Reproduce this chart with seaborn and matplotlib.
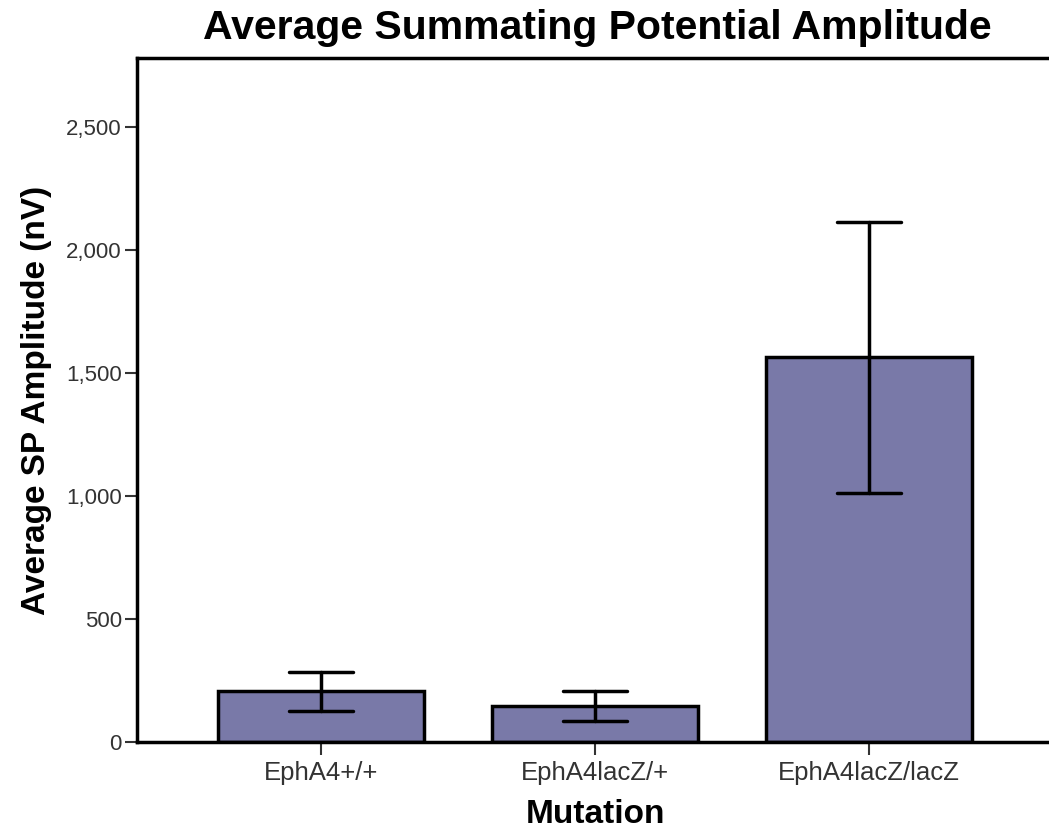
import matplotlib
matplotlib.use("Agg")
import matplotlib.pyplot as plt
import seaborn as sns
import pandas as pd
from matplotlib.ticker import FuncFormatter

categories = ["EphA4+/+", "EphA4lacZ/+", "EphA4lacZ/lacZ"]
means = [208, 145, 1565]
err_low = [126, 86, 1011]
err_high = [285, 208, 2115]
yticks = [0, 500, 1000, 1500, 2000, 2500]

sns.set_style("white")
plt.rcParams['font.family'] = ['Liberation Sans', 'DejaVu Sans']

df = pd.DataFrame({"Mutation": categories, "Amp": means})

fig = plt.figure(figsize=(10.49, 8.34), dpi=100)
ax = fig.add_axes([137/1049, 1 - 742/834, (1053 - 137)/1049, (742 - 58)/834])

sns.barplot(data=df, x="Mutation", y="Amp", color="#7979A8", saturation=1,
            width=0.75, edgecolor="black", linewidth=2.5, errorbar=None, ax=ax)

for i, (lo, hi) in enumerate(zip(err_low, err_high)):
    ax.plot([i, i], [lo, hi], color="black", lw=2.5, zorder=5)
    ax.plot([i - 0.117, i + 0.117], [lo, lo], color="black", lw=2.5, zorder=5)
    ax.plot([i - 0.117, i + 0.117], [hi, hi], color="black", lw=2.5, zorder=5)

ax.set_xlim(-0.67, 2.67)
ax.set_ylim(0, 2780)
ax.set_yticks(yticks)
ax.yaxis.set_major_formatter(FuncFormatter(lambda v, p: f"{int(v):,}"))

for s in ["left", "bottom", "top", "right"]:
    ax.spines[s].set_visible(True)
    ax.spines[s].set_linewidth(2.5)
    ax.spines[s].set_color("black")

ax.tick_params(axis="y", which="major", length=9, width=1.5, color="#333333",
               labelsize=16, labelcolor="#333333", pad=2, left=True)
ax.tick_params(axis="x", which="major", length=9, width=1.5, color="#333333",
               labelsize=18.5, labelcolor="#333333", pad=5, bottom=True)

ax.set_xlabel("Mutation", fontsize=24, fontweight="bold", labelpad=10, color="black")
ax.set_ylabel("Average SP Amplitude (nV)", fontsize=24, fontweight="bold", labelpad=10, color="black")
fig.text(597/1049, 1 - 28/834, "Average Summating Potential Amplitude",
         ha="center", va="center", fontsize=29.5, fontweight="bold", color="black")

fig.savefig("out.png", dpi=100)
